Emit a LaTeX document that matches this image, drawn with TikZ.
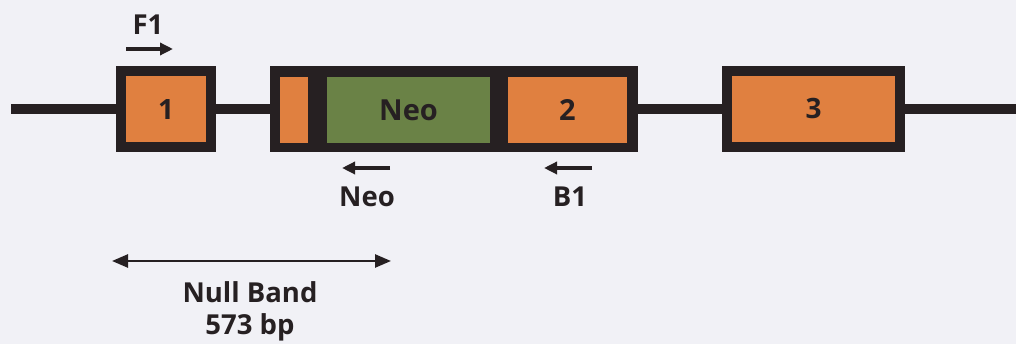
\documentclass[tikz,border=0pt]{standalone}
\usepackage{fontspec}
\setmainfont{Open Sans}
\usetikzlibrary{arrows.meta}
\definecolor{bg}{RGB}{241,241,246}
\definecolor{dk}{RGB}{38,32,34}
\definecolor{ora}{RGB}{224,128,64}
\definecolor{grn}{RGB}{106,130,70}
\tikzset{
  exonbox/.style={draw=dk, line width=10pt, fill=ora, inner sep=0pt, font=\fontsize{28}{30}\selectfont\bfseries, text=dk},
  fillbox/.style={fill=#1, inner sep=0pt, draw=none, font=\fontsize{29}{31}\selectfont\bfseries, text=dk},
  backbone/.style={draw=dk, line width=10pt},
  primer/.style={draw=dk, line width=3.5pt, -{Triangle[length=13pt,width=12pt]}},
  lbl/.style={text=dk, font=\fontsize{27.5}{29}\selectfont\bfseries, inner sep=0pt},
  span/.style={draw=dk, line width=2.5pt, {Triangle[length=16pt,width=13pt]}-{Triangle[length=16pt,width=13pt]}}
}
\begin{document}
\begin{tikzpicture}[x=1pt,y=-1pt]
\useasboundingbox[fill=bg] (0,0) rectangle (1016,344);
% exon 1
\node[exonbox, minimum width=90pt, minimum height=76pt] (e1) at (166,109.5) {1};
% composite box
\node[exonbox, fill=dk, minimum width=358pt, minimum height=76pt] (big) at (454,109) {};
\node[fillbox=ora, minimum width=28pt, minimum height=66pt] (stub) at (294,110) {};
\node[fillbox=grn, minimum width=163pt, minimum height=66pt] (neo) at (408.5,110) {Neo};
\node[fillbox=ora, minimum width=119pt, minimum height=66pt] (e2) at (567.5,110) {2};
% exon 3
\node[exonbox, minimum width=173pt, minimum height=76pt] (e3) at (813.5,109) {3};
% backbone
\coordinate (lend) at (11,109);
\coordinate (rend) at (1016,109);
\draw[backbone] (lend) -- (lend -| e1.west);
\draw[backbone] (e1.east |- lend) -- (big.west);
\draw[backbone] (big.east) -- (e3.west);
\draw[backbone] (e3.east) -- (rend);
% primers
\node[lbl] (f1) at (148,25) {F1};
\coordinate (f1a) at (126,49);
\coordinate (f1b) at (173,49);
\draw[primer] (f1a) -- (f1b);
\node[lbl] (neol) at (367,197) {Neo};
\coordinate (na) at (390,168);
\coordinate (nb) at (342,168);
\draw[primer] (na) -- (nb);
\node[lbl] (b1) at (570,197) {B1};
\coordinate (ba) at (592,168);
\coordinate (bb) at (544,168);
\draw[primer] (ba) -- (bb);
% null band
\coordinate (sa) at (112,261);
\coordinate (sb) at (391,261);
\draw[span] (sa) -- (sb);
\node[lbl] (nb1) at (250,292) {Null Band};
\node[lbl] (nb2) at (250,327) {573 bp};
\end{tikzpicture}
\end{document}
